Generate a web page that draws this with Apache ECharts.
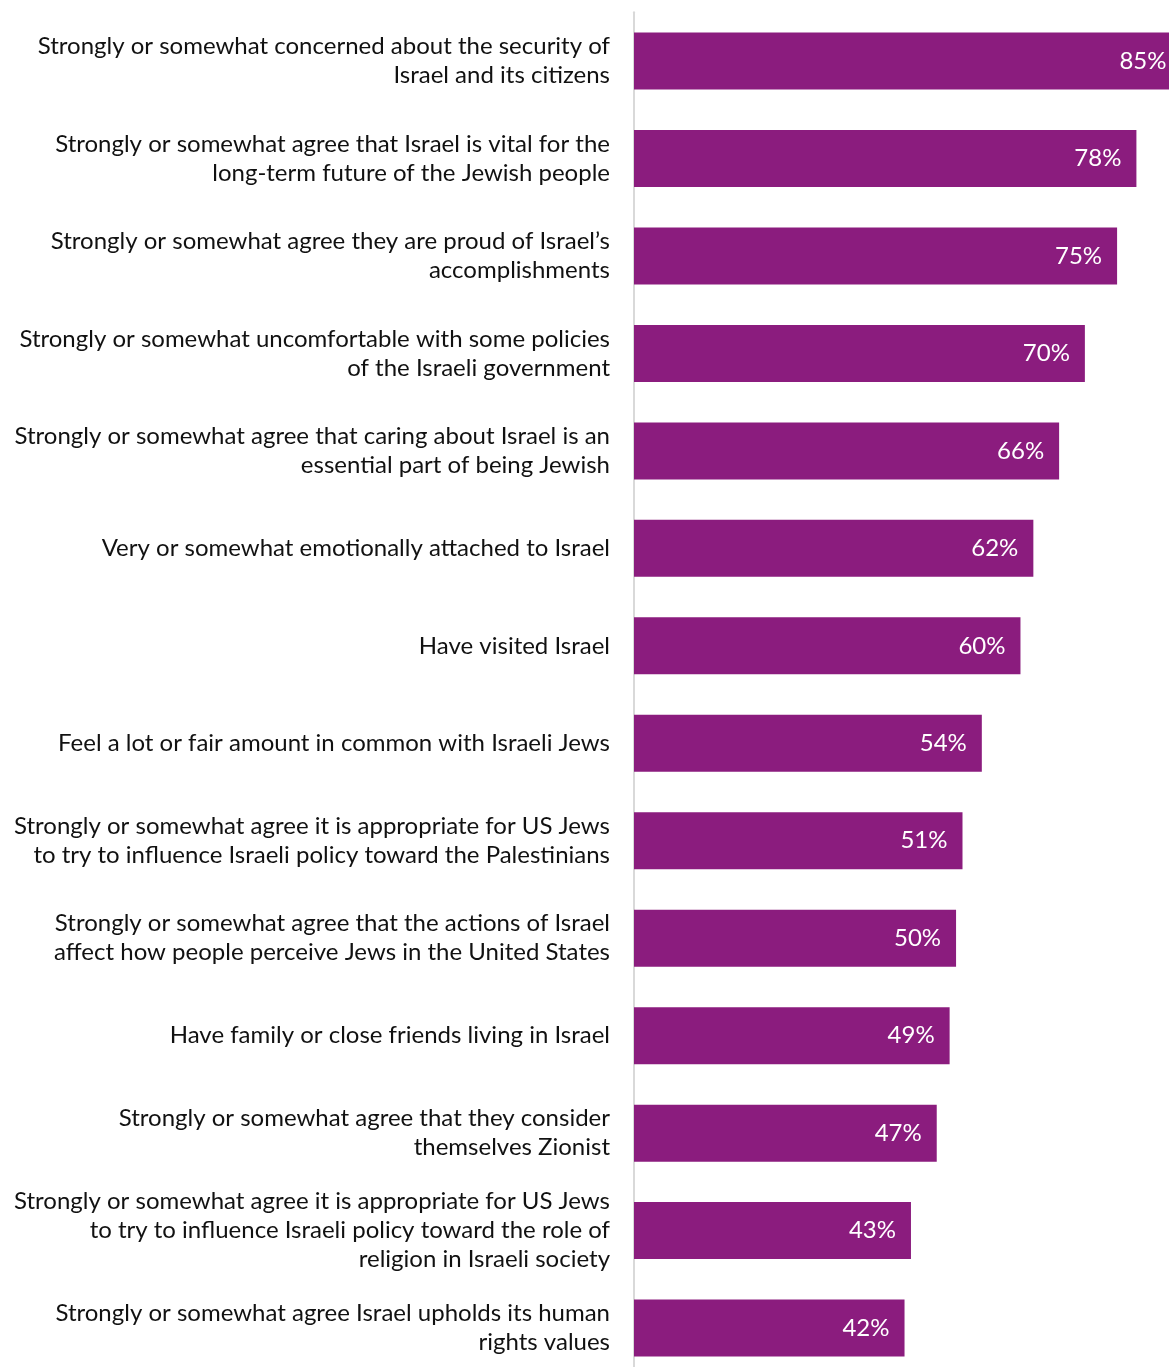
<!DOCTYPE html>
<html>
<head>
<meta charset="utf-8">
<script src="https://cdn.jsdelivr.net/npm/echarts@6/dist/echarts.min.js"></script>
<style>
  html, body { margin: 0; padding: 0; background: #ffffff; }
  #chart { width: 1169px; height: 1367px; }
</style>
</head>
<body>
<div id="chart"></div>
<script>
// Survey statements, top to bottom
const categories = [
  'Strongly or somewhat concerned about the security of\nIsrael and its citizens',
  'Strongly or somewhat agree that Israel is vital for the\nlong-term future of the Jewish people',
  'Strongly or somewhat agree they are proud of Israel\u2019s\naccomplishments',
  'Strongly or somewhat uncomfortable with some policies\nof the Israeli government',
  'Strongly or somewhat agree that caring about Israel is an\nessential part of being Jewish',
  'Very or somewhat emotionally attached to Israel',
  'Have visited Israel',
  'Feel a lot or fair amount in common with Israeli Jews',
  'Strongly or somewhat agree it is appropriate for US Jews\nto try to influence Israeli policy toward the Palestinians',
  'Strongly or somewhat agree that the actions of Israel\naffect how people perceive Jews in the United States',
  'Have family or close friends living in Israel',
  'Strongly or somewhat agree that they consider\nthemselves Zionist',
  'Strongly or somewhat agree it is appropriate for US Jews\nto try to influence Israeli policy toward the role of\nreligion in Israeli society',
  'Strongly or somewhat agree Israel upholds its human\nrights values'
];

// Share of respondents (%)
const values = [85, 78, 75, 70, 66, 62, 60, 54, 51, 50, 49, 47, 43, 42];

const chart = echarts.init(document.getElementById('chart'), null, { renderer: 'canvas' });

chart.setOption({
  animation: false,
  backgroundColor: '#ffffff',
  // plot area runs slightly past the right and bottom edges of the canvas
  grid: {
    left: 634,
    top: 12.3,
    width: 547.5,
    height: 1364.5,
    containLabel: false,
    outerBoundsMode: 'none'
  },
  xAxis: {
    type: 'value',
    min: 0,
    max: 85,
    show: false
  },
  yAxis: {
    type: 'category',
    data: categories,
    inverse: true,
    offset: 2,
    axisLine: { show: true, lineStyle: { color: '#d9d9d9', width: 2 } },
    axisTick: { show: false },
    splitLine: { show: false },
    axisLabel: {
      margin: 22,
      color: '#111111',
      fontFamily: 'Lato',
      fontSize: 24,
      lineHeight: 29,
      align: 'right'
    }
  },
  series: [{
    type: 'bar',
    data: values,
    barWidth: 57,
    clip: false,
    itemStyle: { color: '#8B1C7E' },
    label: {
      show: true,
      position: 'insideRight',
      distance: 15,
      formatter: '{c}%',
      color: '#ffffff',
      fontFamily: 'Lato',
      fontSize: 24
    }
  }]
});
</script>
</body>
</html>
